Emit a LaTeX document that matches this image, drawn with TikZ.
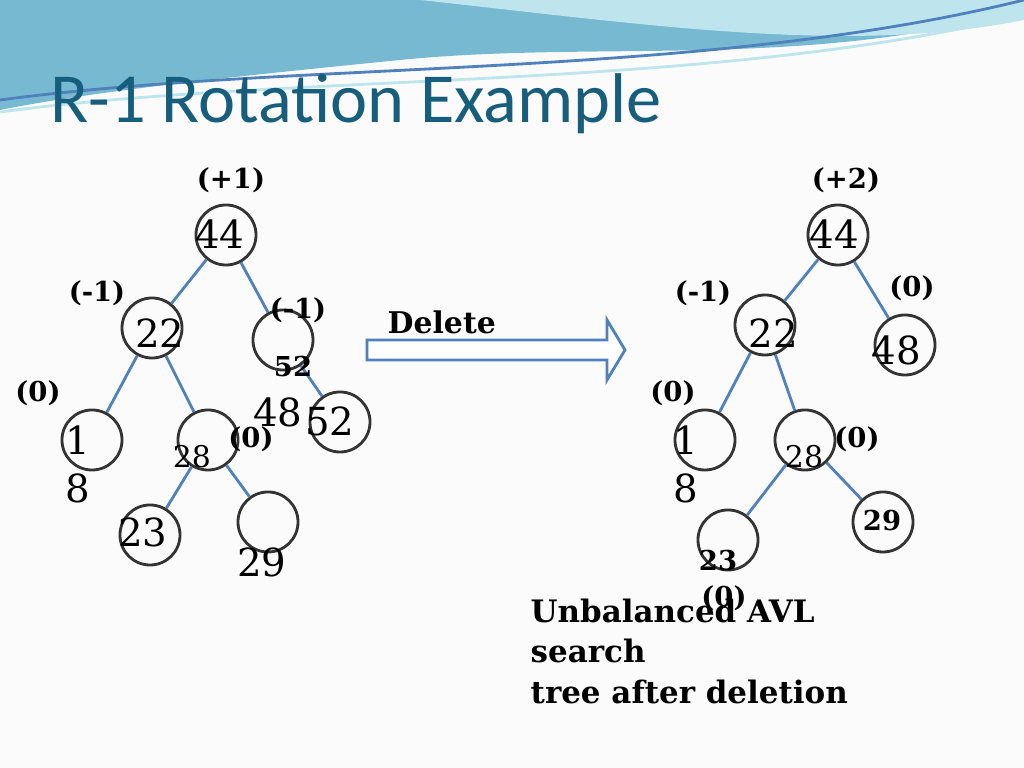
\documentclass[tikz,border=0pt]{standalone}
\usepackage{fontspec}
\setmainfont{DejaVu Serif}
\newfontfamily\titlefont{Carlito}
\definecolor{edgeblue}{RGB}{79,129,189}
\definecolor{titleteal}{RGB}{23,94,124}
\definecolor{bandA}{RGB}{120,185,210}
\definecolor{bandB}{RGB}{190,228,238}
\begin{document}
\begin{tikzpicture}[x=0.01cm,y=-0.01cm,
  vtx/.style={circle,draw=black!80,thick,minimum size=0.6cm,inner sep=0pt},
  edge/.style={draw=edgeblue,thick},
  num/.style={font=\fontsize{11}{12}\selectfont,inner sep=0pt},
  bal/.style={font=\bfseries\fontsize{7.8}{10}\selectfont,inner sep=0pt}]
\useasboundingbox (0,0) rectangle (1024,768);
\fill[white!97!gray] (0,0) rectangle (1024,768);
% header band
\fill[bandA] (0,0) -- (1024,0) -- (1024,10) .. controls (800,70) and (600,40) .. (400,60) .. controls (250,75) and (100,90) .. (0,110) -- cycle;
\fill[bandB] (420,0) -- (1024,0) -- (1024,20) .. controls (850,55) and (650,25) .. (420,0);
\draw[edgeblue,thick] (0,100) .. controls (300,60) and (700,80) .. (1024,0);
\draw[bandB,thick] (0,112) .. controls (300,72) and (700,92) .. (1024,15);
\node[anchor=west,text=titleteal,font=\titlefont\fontsize{20}{22}\selectfont] (title) at (38,104) {R-1 Rotation Example};
% left tree
\node[vtx] (l44) at (226,235) {};
\node[vtx] (l22) at (152,328) {};
\node[vtx] (l52) at (283,340) {};
\node[vtx] (l48) at (340,422) {};
\node[vtx] (l18) at (92,440) {};
\node[vtx] (l28) at (208,440) {};
\node[vtx] (l23) at (150,535) {};
\node[vtx] (l29) at (268,522) {};
\draw[edge] (l44) -- (l22) (l44) -- (l52) (l52) -- (l48) (l22) -- (l18) (l22) -- (l28) (l28) -- (l23) (l28) -- (l29);
\node[num] (t1) at (220,234) {44};
\node[num] (t2) at (160,333) {22};
\node[num] (t3) at (78,440) {1};
\node[num] (t4) at (78,488) {8};
\node[num,font=\fontsize{8.5}{10}\selectfont] (t5) at (192,457) {28};
\node[num] (t6) at (143,532) {23};
\node[num] (t7) at (262,562) {29};
\node[num] (t8) at (278,412) {48};
\node[num] (t9) at (330,421) {52};
\node[bal] (b1) at (231,180) {(+1)};
\node[bal] (b2) at (97,293) {(-1)};
\node[bal] (b3) at (298,310) {(-1)};
\node[bal] (b4) at (293,367) {52};
\node[bal] (b5) at (38,393) {(0)};
\node[bal] (b6) at (251,439) {(0)};
% arrow
\node[bal,anchor=west,font=\bfseries\fontsize{8.5}{10}\selectfont] (del) at (387,322) {Delete};
\draw[thick,edgeblue,fill=white] (367,340) -- (607,340) -- (607,320) -- (625,350) -- (607,380) -- (607,360) -- (367,360) -- cycle;
% right tree
\node[vtx] (r44) at (838,235) {};
\node[vtx] (r22) at (765,325) {};
\node[vtx] (r48) at (905,345) {};
\node[vtx] (r18) at (705,440) {};
\node[vtx] (r28) at (805,440) {};
\node[vtx] (r23) at (728,540) {};
\node[vtx] (r29) at (883,522) {};
\draw[edge] (r44) -- (r22) (r44) -- (r48) (r22) -- (r18) (r22) -- (r28) (r28) -- (r23) (r28) -- (r29);
\node[num] (s1) at (834,234) {44};
\node[num] (s2) at (773,333) {22};
\node[num] (s3) at (896,350) {48};
\node[num] (s4) at (686,440) {1};
\node[num] (s5) at (686,488) {8};
\node[num,font=\fontsize{8.5}{10}\selectfont] (s6) at (804,457) {28};
\node[bal] (c1) at (846,180) {(+2)};
\node[bal] (c2) at (703,293) {(-1)};
\node[bal] (c3) at (912,288) {(0)};
\node[bal] (c4) at (673,393) {(0)};
\node[bal] (c5) at (857,439) {(0)};
\node[bal] (c6) at (882,521) {29};
\node[bal] (c7) at (718,561) {23};
\node[bal] (c8) at (724,598) {(0)};
\node[bal,anchor=north west,align=left,font=\bfseries\fontsize{8.8}{11.5}\selectfont] (cap) at (530,598) {Unbalanced AVL\\search\\tree after deletion};
\end{tikzpicture}
\end{document}
